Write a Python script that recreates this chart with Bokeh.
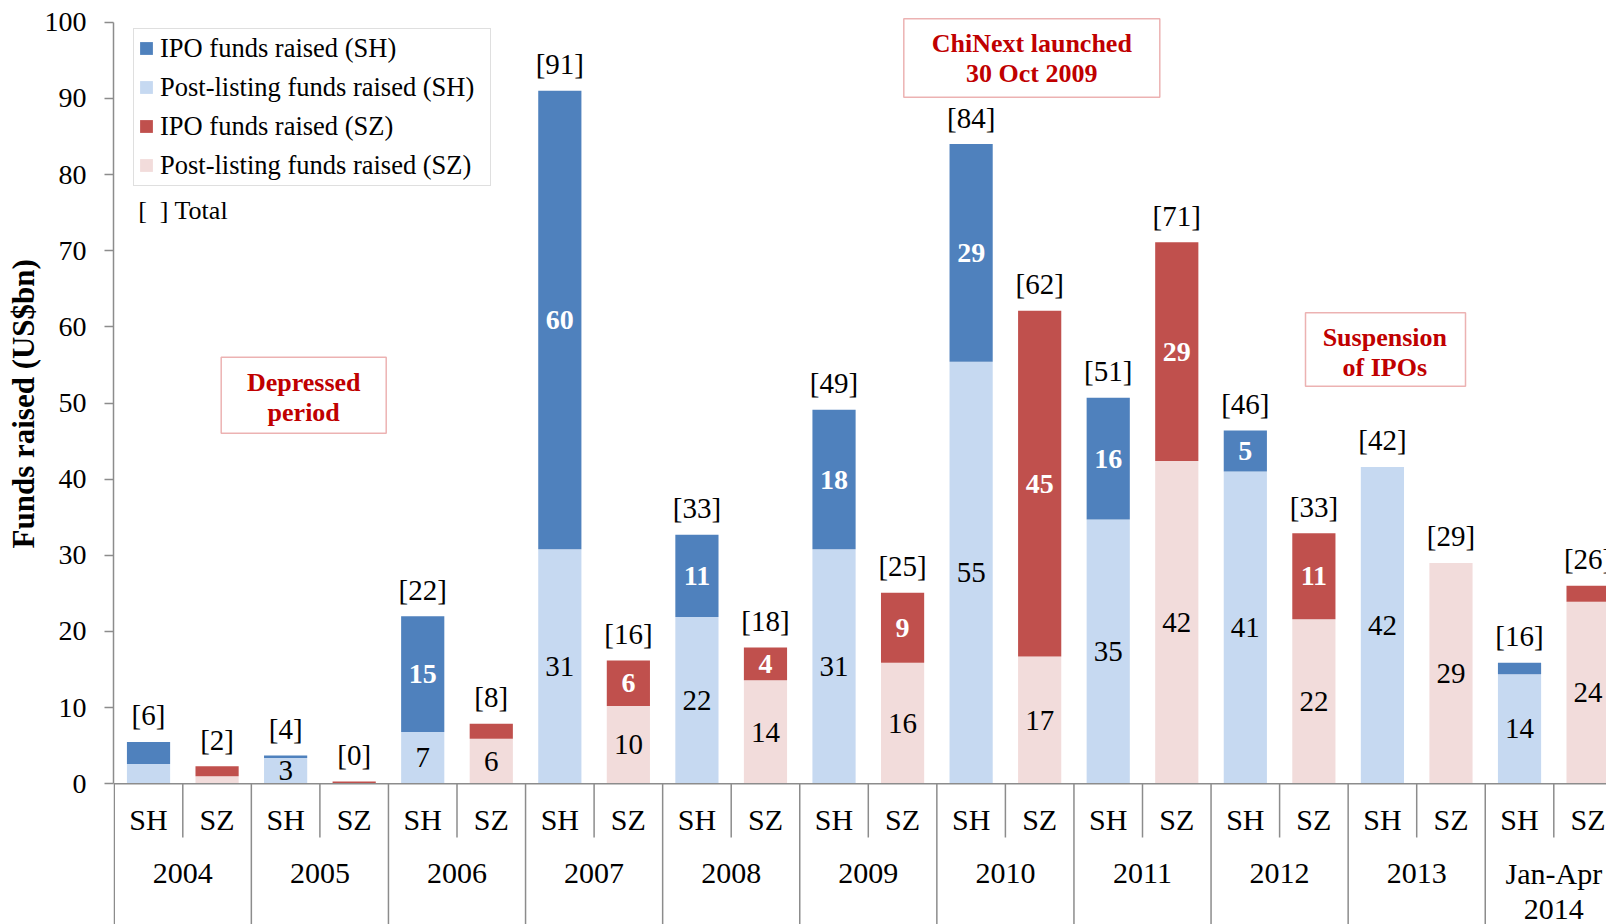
from bokeh.plotting import figure
from bokeh.models import (ColumnDataSource, Range1d, FixedTicker, Legend, LegendItem,
                          BoxAnnotation, Label, Span, Title)
from bokeh.core.properties import value
from bokeh.embed import file_html
from bokeh.resources import INLINE

# ---------------- data ----------------
years = ["2004", "2005", "2006", "2007", "2008", "2009", "2010", "2011", "2012", "2013", "Jan-Apr\n2014"]
exchanges = ["SH", "SZ"]

sh_post = [2.6, 3.4, 6.8, 30.8, 21.9, 30.8, 55.4, 34.7, 41.0, 41.6, 14.4]
sh_ipo = [2.9, 0.3, 15.2, 60.2, 10.8, 18.3, 28.6, 16.0, 5.4, 0.0, 1.5]
sz_post = [1.0, 0.0, 5.9, 10.2, 13.6, 15.9, 16.7, 42.4, 21.6, 29.0, 23.9]
sz_ipo = [1.3, 0.3, 2.0, 6.0, 4.3, 9.2, 45.4, 28.7, 11.3, 0.0, 2.1]

sh_post_lbl = ["", "3", "7", "31", "22", "31", "55", "35", "41", "42", "14"]
sh_ipo_lbl = ["", "", "15", "60", "11", "18", "29", "16", "5", "", ""]
sz_post_lbl = ["", "", "6", "10", "14", "16", "17", "42", "22", "29", "24"]
sz_ipo_lbl = ["", "", "", "6", "4", "9", "45", "29", "11", "", ""]
sh_total_lbl = ["[6]", "[4]", "[22]", "[91]", "[33]", "[49]", "[84]", "[51]", "[46]", "[42]", "[16]"]
sz_total_lbl = ["[2]", "[0]", "[8]", "[16]", "[18]", "[25]", "[62]", "[71]", "[33]", "[29]", "[26]"]

series_names = ["IPO funds raised (SH)", "Post-listing funds raised (SH)",
                "IPO funds raised (SZ)", "Post-listing funds raised (SZ)"]
y_ticks = [0, 10, 20, 30, 40, 50, 60, 70, 80, 90, 100]
y_title = "Funds raised (US$bn)"

# ---------------- style ----------------
FONT = "Liberation Serif"
C_SH_IPO, C_SH_POST = "#4F81BD", "#C6D9F1"
C_SZ_IPO, C_SZ_POST = "#C0504D", "#F2DCDB"
GRAY = "#8C8C8C"
RED = "#C00000"

W, H = 1606, 924
LEFT = 113
PX_PER_CAT = 68.55
PX_PER_UNIT = 7.616
ZERO_PX = 783.3
x_start = -0.75 / PX_PER_CAT
x_end = x_start + (W - LEFT) / PX_PER_CAT
y_top = 100 + 21.7 / PX_PER_UNIT
y_bot = -(H - ZERO_PX) / PX_PER_UNIT
short_sep = -53.7 / PX_PER_UNIT

n = len(years)
xs, post_sh, ipo_sh, post_sz, ipo_sz = [], [], [], [], []
for i in range(n):
    xs += [2 * i + 0.5, 2 * i + 1.5]
    post_sh += [sh_post[i], 0]
    ipo_sh += [sh_ipo[i], 0]
    post_sz += [0, sz_post[i]]
    ipo_sz += [0, sz_ipo[i]]
src = ColumnDataSource(dict(x=xs, post_sh=post_sh, ipo_sh=ipo_sh, post_sz=post_sz, ipo_sz=ipo_sz))

p = figure(width=W, height=H, x_range=Range1d(x_start, x_end), y_range=Range1d(y_bot, y_top),
           output_backend="svg", toolbar_location=None, x_axis_location=None,
           min_border_left=LEFT, min_border_right=0, min_border_top=0, min_border_bottom=0)
p.outline_line_color = None
p.grid.grid_line_color = None
p.background_fill_color = "white"

rs = p.vbar_stack(["post_sh", "ipo_sh", "post_sz", "ipo_sz"], x="x", width=0.63, source=src,
                  color=[C_SH_POST, C_SH_IPO, C_SZ_POST, C_SZ_IPO], line_color=None)

# segment labels
light = dict(x=[], y=[], t=[])
dark = dict(x=[], y=[], t=[])
tot = dict(x=[], y=[], t=[])
for i in range(n):
    xa, xb = 2 * i + 0.5, 2 * i + 1.5
    light["x"] += [xa, xb]
    light["y"] += [sh_post[i] / 2, sz_post[i] / 2]
    light["t"] += [sh_post_lbl[i], sz_post_lbl[i]]
    dark["x"] += [xa, xb]
    dark["y"] += [sh_post[i] + sh_ipo[i] / 2, sz_post[i] + sz_ipo[i] / 2]
    dark["t"] += [sh_ipo_lbl[i], sz_ipo_lbl[i]]
    tot["x"] += [xa, xb]
    tot["y"] += [sh_post[i] + sh_ipo[i], sz_post[i] + sz_ipo[i]]
    tot["t"] += [sh_total_lbl[i], sz_total_lbl[i]]

p.text(x="x", y="y", text="t", source=ColumnDataSource(light), text_font=value(FONT),
       text_font_size="29px", text_color="black", text_align="center", text_baseline="middle")
p.text(x="x", y="y", text="t", source=ColumnDataSource(dark), text_font=value(FONT),
       text_font_size="28px", text_font_style="bold", text_color="white",
       text_align="center", text_baseline="middle")
p.text(x="x", y="y", text="t", source=ColumnDataSource(tot), text_font=value(FONT),
       text_font_size="29px", text_color="black", text_align="center", text_baseline="middle",
       y_offset=-26.5)

# category axis (drawn inside the frame below zero)
cat_x = [2 * i + 0.5 + j for i in range(n) for j in range(2)]
cat_t = [exchanges[j] for i in range(n) for j in range(2)]
p.text(x=cat_x, y=[0] * len(cat_x), text=cat_t, text_font=value(FONT), text_font_size="30px",
       text_color="black", text_align="center", text_baseline="middle", y_offset=36)
year_x = [2 * i + 1 for i in range(n)]
line1 = [yr.split("\n")[0] for yr in years]
line2 = [yr.split("\n")[1] if "\n" in yr else "" for yr in years]
for txt, off in ((line1, 89.5), (line2, 125.5)):
    p.text(x=year_x, y=[0] * n, text=txt, text_font=value(FONT),
           text_font_size="30px", text_color="black", text_align="center",
           text_baseline="alphabetic", y_offset=off)
p.segment(x0=year_x, y0=[0] * n, x1=year_x, y1=[short_sep] * n, line_color=GRAY, line_width=1.5)
p.segment(x0=[2 * i for i in range(n + 1)], y0=[0] * (n + 1), x1=[2 * i for i in range(n + 1)],
          y1=[y_bot] * (n + 1), line_color=GRAY, line_width=1.5)
p.add_layout(Span(location=0, dimension="width", line_color=GRAY, line_width=1.5))

# y axis
ax = p.yaxis[0]
ax.ticker = FixedTicker(ticks=y_ticks)
ax.bounds = (0, 100)
ax.axis_line_color = GRAY
ax.axis_line_width = 1.5
ax.major_tick_line_color = GRAY
ax.major_tick_line_width = 1.5
ax.major_tick_out = 9
ax.major_tick_in = 0
ax.minor_tick_line_color = None
ax.major_label_standoff = 18
ax.major_label_text_font = FONT
ax.major_label_text_font_size = "28px"
ax.major_label_text_color = "black"

# y axis title: a side title, shifted up so it is centred on the 0-100 value range
p.add_layout(Title(text=y_title, align="left", offset=376, standoff=2,
                   text_font=FONT, text_font_size="31px", text_font_style="bold",
                   text_color="black"), "left")

# legend
legend = Legend(items=[LegendItem(label=series_names[0], renderers=[rs[1]]),
                       LegendItem(label=series_names[1], renderers=[rs[0]]),
                       LegendItem(label=series_names[2], renderers=[rs[3]]),
                       LegendItem(label=series_names[3], renderers=[rs[2]])],
                location=(20, 738.5), margin=0, padding=4, spacing=8,
                glyph_width=16, glyph_height=16, label_standoff=6, label_width=326,
                label_text_font=FONT, label_text_font_size="26.5px", label_text_color="black",
                border_line_color="#BFBFBF", border_line_width=1,
                background_fill_color="white", background_fill_alpha=1)
p.add_layout(legend)

def px_x(px):
    return x_start + (px - LEFT) / PX_PER_CAT

def px_y(py):
    return (ZERO_PX - py) / PX_PER_UNIT

p.add_layout(Label(x=px_x(137.7), y=px_y(210), text="[\u00a0\u00a0] Total", text_font=FONT,
                   text_font_size="26px", text_color="black", text_align="left",
                   text_baseline="middle"))

notes = [
    ((220.7, 385.7, 356.7, 432.7), 303.2, [(381.7, "Depressed"), (411.7, "period")]),
    ((903.3, 1159.3, 18.3, 96.7), 1031.3, [(42.7, "ChiNext launched"), (72.7, "30 Oct 2009")]),
    ((1305, 1465, 312.3, 385.7), 1384.3, [(336.7, "Suspension"), (366.7, "of IPOs")]),
]
for (l, r, t, b), cx, lines in notes:
    p.add_layout(BoxAnnotation(left=px_x(l), right=px_x(r), top=px_y(t), bottom=px_y(b),
                               fill_color="white", fill_alpha=1, line_color=RED, line_width=1.5))
    for ly, txt in lines:
        p.add_layout(Label(x=px_x(cx), y=px_y(ly), text=txt, text_font=FONT,
                           text_font_size="26px", text_font_style="bold", text_color=RED,
                           text_align="center", text_baseline="middle"))

open("out.html", "w").write(file_html(p, INLINE))
